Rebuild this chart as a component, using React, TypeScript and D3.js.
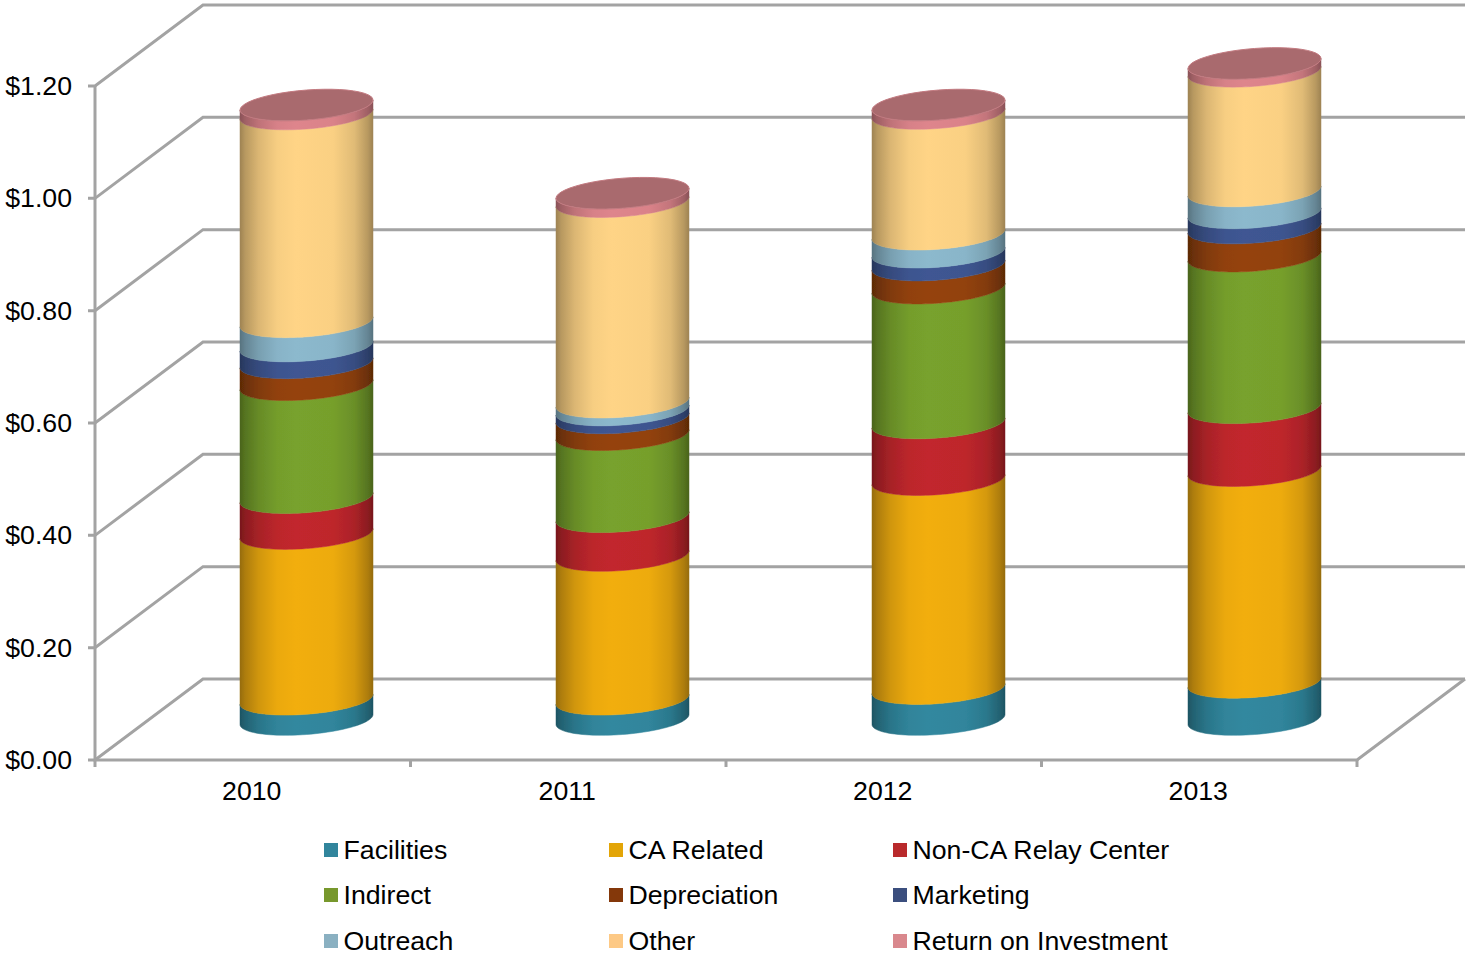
import React from 'react';
import * as d3 from 'd3';

const categories = ['2010', '2011', '2012', '2013'];
const seriesNames = ['Facilities', 'CA Related', 'Non-CA Relay Center', 'Indirect', 'Depreciation', 'Marketing', 'Outreach', 'Other', 'Return on Investment'];
const seriesColors = ['#31889f', '#f2ae0c', '#c2272d', '#78a22d', '#95430a', '#3f5793', '#8cb9cd', '#ffd486', '#de858c'];
const legendColors = ['#31859c', '#e3a507', '#b92a2c', '#77982c', '#84380a', '#3b4e7e', '#8ab0c1', '#fdc985', '#d9888d'];
const facilities = [0.036, 0.036, 0.055, 0.066];
const caRelated = [0.295, 0.256, 0.372, 0.377];
const nonCa = [0.064, 0.069, 0.101, 0.112];
const indirect = [0.201, 0.146, 0.240, 0.270];
const depreciation = [0.039, 0.030, 0.041, 0.050];
const marketing = [0.030, 0.014, 0.023, 0.027];
const outreach = [0.043, 0.014, 0.032, 0.039];
const other = [0.370, 0.357, 0.215, 0.213];
const roi = [0.016, 0.015, 0.015, 0.014];
const seriesValues = [facilities, caRelated, nonCa, indirect, depreciation, marketing, outreach, other, roi];
const yTicks = [0, 0.2, 0.4, 0.6, 0.8, 1.0, 1.2];

const W = 1468, H = 957;
const depthX = 108, depthY = 81;
const axisColor = '#a3a3a3';
const font = '"Liberation Sans", Arial, sans-serif';

const x = d3.scaleBand<string>().domain(categories).range([95, 1357]);
const barX = d3.scalePoint<string>().domain(categories).range([306.5, 1254.5]);
const y = d3.scaleLinear().domain([0, 1.2]).range([760, 86]);

const rx = 66.5, tilt = 5, ry = 15;

function arcPoints(cx: number, cy: number, from: number, to: number): [number, number][] {
  return d3.range(0, 49).map(i => {
    const t = from + (to - from) * i / 48;
    return [cx + rx * Math.cos(t), cy - tilt * Math.cos(t) + ry * Math.sin(t)];
  });
}
const line = d3.line();

function shade(color: string, k: number) {
  const c = d3.rgb(color);
  return d3.rgb(c.r * k, c.g * k, c.b * k).formatHex();
}
const shadeStops: [number, number][] = [[0, 0.62], [0.04, 0.72], [0.14, 0.86], [0.28, 0.97], [0.42, 1], [0.7, 0.98], [0.86, 0.88], [0.96, 0.72], [1, 0.62]];

export default function App() {
  const stacked = categories.map((_, ci) => {
    let sum = 0;
    return seriesValues.map(vals => {
      const y0 = sum;
      sum += vals[ci];
      return [y0, sum];
    });
  });
  const cyOf = (v: number) => y(v) - depthY / 2;

  return (
    <svg width={W} height={H} style={{ position: 'absolute', left: 0, top: 0, background: '#fff' }} fontFamily={font}>
      <defs>
        {seriesColors.map((col, i) => (
          <linearGradient key={i} id={`g${i}`} x1="0" x2="1" y1="0" y2="0">
            {shadeStops.map(([o, k]) => <stop key={o} offset={o} stopColor={shade(col, k)} />)}
          </linearGradient>
        ))}
        <filter id="soft" x="-5%" y="-5%" width="110%" height="110%"><feGaussianBlur stdDeviation="0.6" /></filter>
      </defs>

      <g stroke={axisColor} strokeWidth={3} fill="none" filter="url(#soft)">
        {yTicks.map(t => (
          <path key={t} d={`M${x.range()[0] - 7},${y(t)}L${x.range()[0]},${y(t)}L${x.range()[0] + depthX},${y(t) - depthY}L${x.range()[1] + depthX},${y(t) - depthY}`} />
        ))}
        <path d={`M${x.range()[0]},${y(1.2)}V${y(0)}H${x.range()[1]}L${x.range()[1] + depthX},${y(0) - depthY}`} />
        {[...categories.map(c => x(c) as number), x.range()[1]].map(px => (
          <path key={px} d={`M${px},${y(0)}V${y(0) + 7}`} />
        ))}
      </g>

      <g filter="url(#soft)">
        {categories.map((c, ci) => {
          const cx = barX(c) as number;
          const top = stacked[ci][stacked[ci].length - 1][1];
          return (
            <g key={c}>
              {stacked[ci].map(([a, b], si) => {
                const lower = arcPoints(cx, cyOf(a), Math.PI, 0);
                const upper = arcPoints(cx, cyOf(b), 0, Math.PI);
                return <path key={si} d={line([...lower, ...upper]) + 'Z'} fill={`url(#g${si})`} stroke={`url(#g${si})`} strokeWidth={0.5} />;
              })}
              <path d={line(arcPoints(cx, cyOf(top), 0, 2 * Math.PI)) + 'Z'} fill="#a96a6e" />
              <path d={line(arcPoints(cx, cyOf(top), 0, 2 * Math.PI)) + 'Z'} fill="none" stroke="#c27a80" strokeWidth={1} />
            </g>
          );
        })}
      </g>

      <g fontSize={26.7} fill="#000">
        {yTicks.map(t => (
          <text key={t} x={72} y={y(t) + 9} textAnchor="end">{d3.format('$.2f')(t)}</text>
        ))}
        {categories.map(c => (
          <text key={c} x={(x(c) as number) + x.bandwidth() / 2 - 1} y={800} textAnchor="middle">{c}</text>
        ))}
      </g>

      <g fontSize={26.7} fill="#000">
        {seriesNames.map((name, i) => {
          const col = i % 3, row = Math.floor(i / 3);
          const lx = [324, 609, 893][col];
          const ly = [850, 895, 941][row];
          return (
            <g key={name}>
              <rect x={lx} y={ly - 7} width={14} height={14} fill={legendColors[i]} />
              <text x={lx + 19.5} y={ly + 9}>{name}</text>
            </g>
          );
        })}
      </g>
    </svg>
  );
}
